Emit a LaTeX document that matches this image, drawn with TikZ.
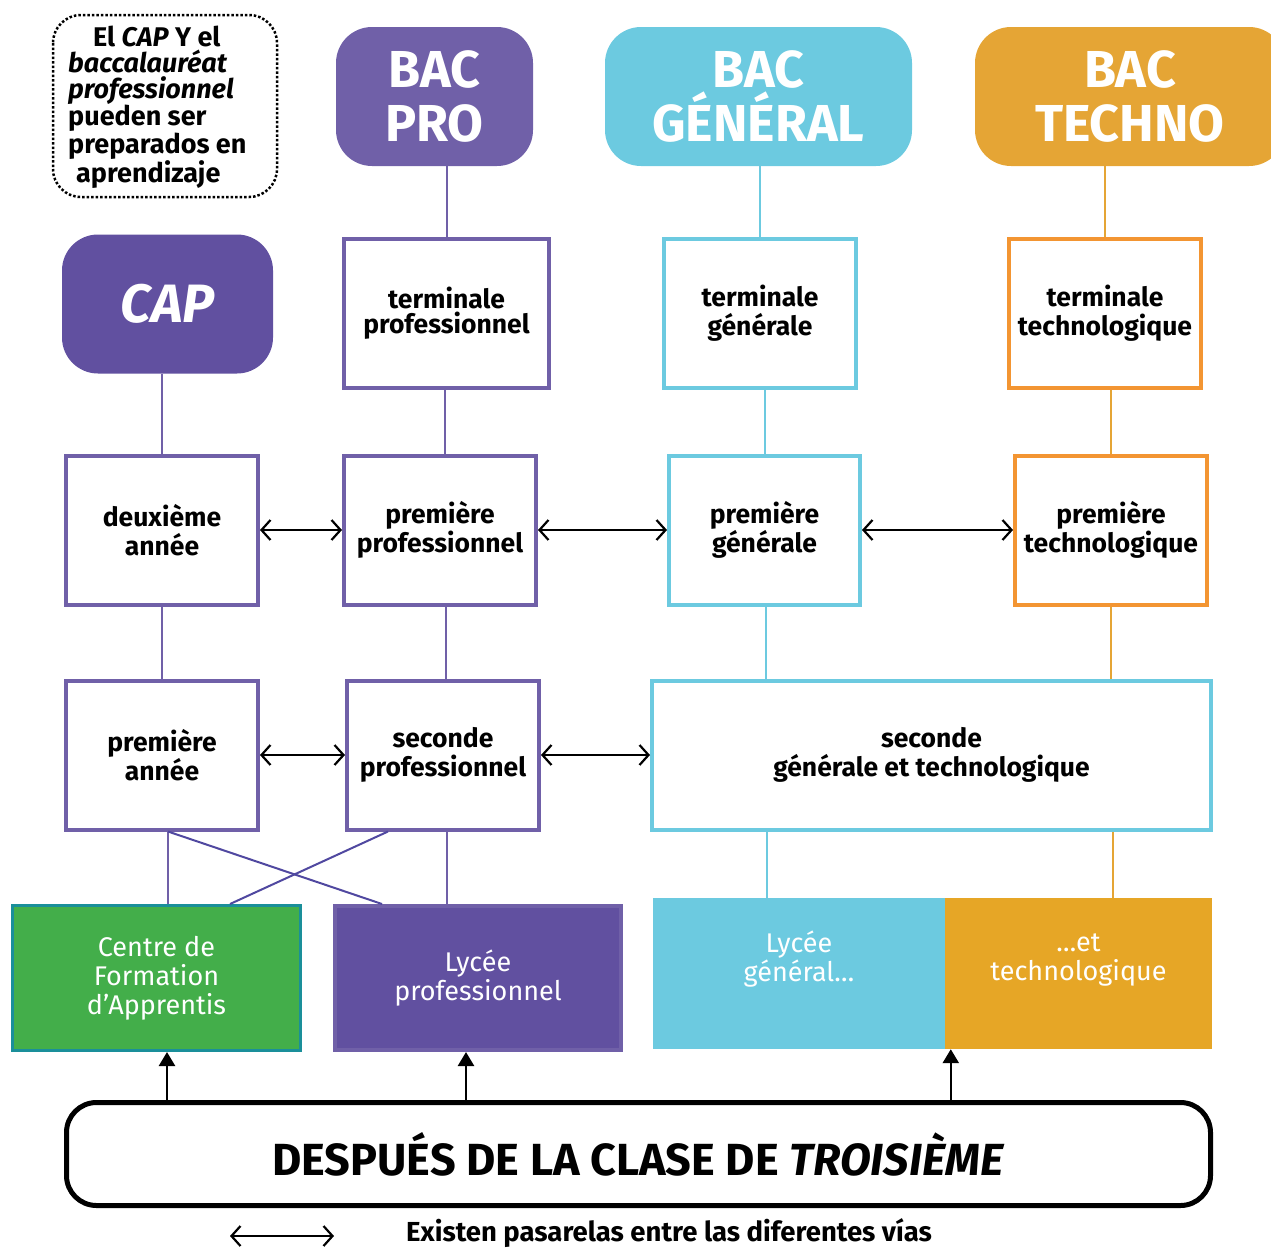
\documentclass[tikz,border=0pt]{standalone}
\usepackage{fontspec}
\setmainfont{Fira Sans}
\usetikzlibrary{arrows.meta}
\definecolor{proA}{HTML}{7060A8}
\definecolor{proB}{HTML}{6150A0}
\definecolor{crossC}{HTML}{5048A0}
\definecolor{genC}{HTML}{6CCAE0}
\definecolor{techF}{HTML}{E5A535}
\definecolor{techB}{HTML}{F39532}
\definecolor{techF2}{HTML}{E6A626}
\definecolor{greenF}{HTML}{43AE4A}
\definecolor{tealB}{HTML}{1A8F9A}
\tikzset{
  head/.style={rounded corners=36pt, text=white, align=center, minimum height=139pt,
    font=\fontsize{52}{54}\selectfont\bfseries},
  lvl/.style={draw, line width=4pt, fill=white, align=center, minimum height=149pt,
    font=\fontsize{26.5}{29}\selectfont\bfseries},
  link/.style={line width=2pt},
  pass/.style={line width=2.2pt, {Straight Barb[length=9pt,width=20pt,line width=2.2pt]}-{Straight Barb[length=9pt,width=20pt,line width=2.2pt]}},
  upar/.style={line width=2.5pt, -{Triangle[length=14pt,width=16pt]}},
  school/.style={align=center, text=white, font=\fontsize{27}{29}\selectfont}
}
\begin{document}
\begin{tikzpicture}[x=1pt,y=-1pt]
\useasboundingbox (0,0) rectangle (1271,1250);
% note
\draw[line width=2.5pt, dotted, rounded corners=28pt] (53,15) rectangle (277,197);
\node[anchor=west, inner sep=0, align=left, font=\fontsize{27}{26}\selectfont\bfseries] (note) at (68,107)
 {\hspace*{25pt}El \textit{CAP} Y el\\ \textit{baccalauréat}\\ \textit{professionnel}\\ pueden ser\\ preparados en\\ \hspace*{8pt}aprendizaje};
% headers
\node[head, fill=proA, minimum width=197pt] (bacpro) at (434.5,96.5) {BAC\\PRO};
\node[head, fill=genC, minimum width=307pt] (bacgen) at (758.5,96.5) {BAC\\GÉNÉRAL};
\node[head, fill=techF, minimum width=310pt] (bactech) at (1130,96.5) {BAC\\TECHNO};
\node[head, fill=proB, minimum width=211pt, font=\fontsize{54}{56}\selectfont\bfseries\itshape] (cap) at (167.5,304) {CAP};
% terminale
\node[lvl, draw=proA, minimum width=205pt, font=\fontsize{26.5}{25}\selectfont\bfseries] (termpro) at (446.5,313.5) {terminale\\professionnel};
\node[lvl, draw=genC, minimum width=192pt] (termgen) at (760,313.5) {terminale\\générale};
\node[lvl, draw=techB, minimum width=192pt] (termtech) at (1105,313.5) {terminale\\technologique};
% premiere
\node[lvl, draw=proA, minimum width=192pt] (deux) at (162,530) {deuxième\\année};
\node[lvl, draw=proA, minimum width=192pt] (prempro) at (440,530) {première\\professionnel};
\node[lvl, draw=genC, minimum width=191pt] (premgen) at (764.5,530) {première\\générale};
\node[lvl, draw=techB, minimum width=192pt] (premtech) at (1111,530) {première\\technologique};
% seconde
\node[lvl, draw=proA, minimum width=192pt] (premannee) at (162,755) {première\\année};
\node[lvl, draw=proA, minimum width=192pt] (secpro) at (443,755) {seconde\\professionnel};
\node[lvl, draw=genC, minimum width=559pt] (secgen) at (931.5,755) {seconde\\générale et technologique};
% schools
\node[school, draw=tealB, line width=3pt, fill=greenF, minimum width=288pt, minimum height=145pt] (centre) at (156.5,978) {Centre de\\Formation\\d’Apprentis};
\node[school, draw=proA, line width=4pt, fill=proB, minimum width=286pt, minimum height=144pt] (lyceepro) at (478,978) {Lycée\\professionnel};
\node[fill=genC, minimum width=292pt, minimum height=151pt, inner sep=0] (lyceegen) at (799,973.5) {};
\node[fill=techF2, minimum width=267pt, minimum height=151pt, inner sep=0] (ettech) at (1078.5,973.5) {};
\node[school] (lyceegenT) at ([yshift=14pt]lyceegen.center) {Lycée\\général\ldots};
\node[school] (ettechT) at ([yshift=14pt]ettech.center) {\ldots et\\technologique};
% bottom box
\node[draw, line width=5pt, rounded corners=30pt, minimum width=1144pt, minimum height=103pt,
  font=\fontsize{45}{48}\selectfont\bfseries] (despues) at (638.5,1154) {DESPUÉS DE LA CLASE DE \textit{TROISIÈME}};
% vertical links
\draw[link, proA] (termpro.north |- bacpro.south) -- (termpro.north);
\draw[link, genC] (termgen.north |- bacgen.south) -- (termgen.north);
\draw[link, techF] (termtech.north |- bactech.south) -- (termtech.north);
\draw[link, proA] (deux.north |- cap.south) -- (deux.north);
\draw[link, proA] ([xshift=5pt]prempro.north |- termpro.south) -- ([xshift=5pt]prempro.north);
\draw[link, genC] (termgen.south -| premgen.north) -- (premgen.north);
\draw[link, techF] (premtech.north |- termtech.south) -- (premtech.north);
\draw[link, proA] (deux.south) -- (premannee.north);
\draw[link, proA] ([xshift=3pt]secpro.north |- prempro.south) -- ([xshift=3pt]secpro.north);
\draw[link, genC] ([xshift=1.5pt]premgen.south) -- ([xshift=1.5pt]premgen.south |- secgen.north);
\draw[link, techF] (premtech.south) -- (premtech.south |- secgen.north);
\draw[link, proA] ([xshift=6pt]premannee.south) -- ([xshift=6pt]premannee.south |- centre.north);
\draw[link, crossC] ([xshift=6pt]premannee.south) -- ([xshift=49pt]lyceepro.north west);
\draw[link, crossC] ([xshift=-55pt]secpro.south) -- ([xshift=73.5pt]centre.north);
\draw[link, proA] ([xshift=4pt]secpro.south) -- ([xshift=4pt]secpro.south |- lyceepro.north);
\draw[link, genC] ([xshift=-32pt]lyceegen.north |- secgen.south) -- ([xshift=-32pt]lyceegen.north);
\draw[link, techF] ([xshift=34.5pt]ettech.north |- secgen.south) -- ([xshift=34.5pt]ettech.north);
% passerelles
\draw[pass] (deux.east) -- (prempro.west);
\draw[pass] (prempro.east) -- (premgen.west);
\draw[pass] (premgen.east) -- (premtech.west);
\draw[pass] (premannee.east) -- (secpro.west);
\draw[pass] (secpro.east) -- (secgen.west);
% up arrows
\draw[upar] ([xshift=10.5pt]centre.south |- despues.north) -- ([xshift=10.5pt]centre.south);
\draw[upar] ([xshift=-12pt]lyceepro.south |- despues.north) -- ([xshift=-12pt]lyceepro.south);
\draw[upar] ([xshift=6pt]ettech.south west |- despues.north) -- ([xshift=6pt]ettech.south west);
% legend
\coordinate (la) at (230,1236);
\coordinate (lb) at (334,1236);
\draw[pass] (la) -- (lb);
\node[anchor=west, inner sep=0, font=\fontsize{27.5}{29}\selectfont\bfseries] (legend) at (406,1233) {Existen pasarelas entre las diferentes vías};
\end{tikzpicture}
\end{document}
